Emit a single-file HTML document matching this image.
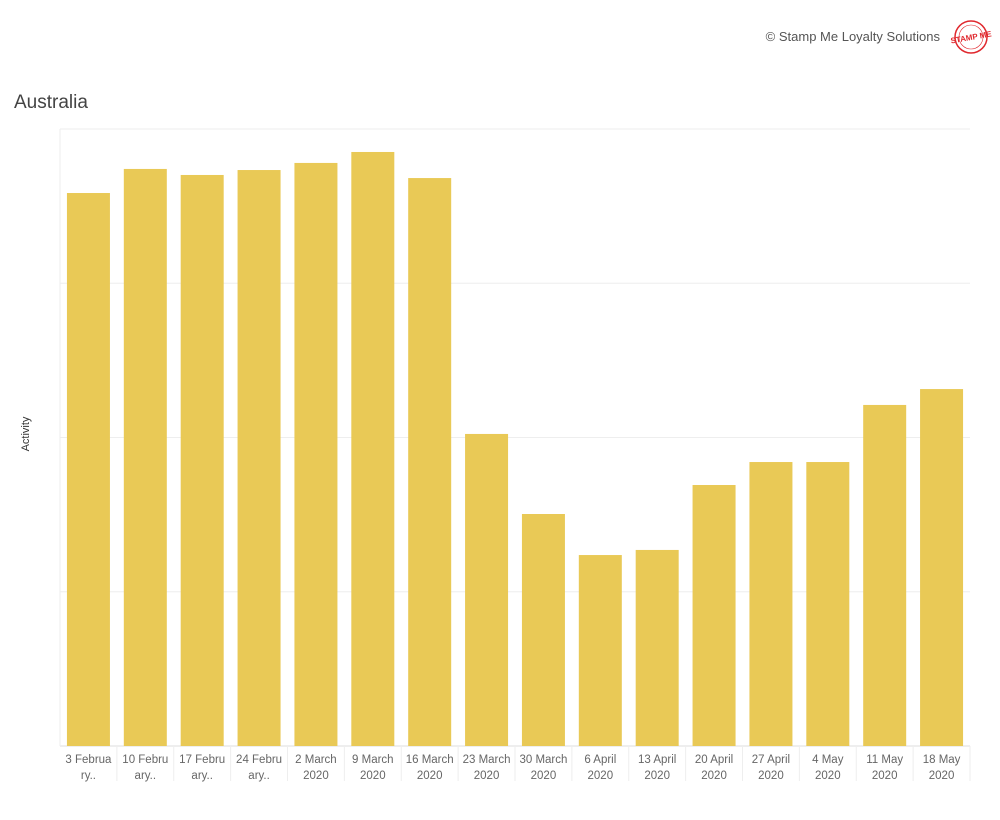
<!DOCTYPE html>
<html><head><meta charset="utf-8"><style>
body{margin:0;background:#fff;font-family:"Liberation Sans",sans-serif;}
svg text{font-family:"Liberation Sans",sans-serif;}
</style></head><body>
<svg id="chart" width="1000" height="815" xmlns="http://www.w3.org/2000/svg">
<text x="940" y="41" text-anchor="end" font-size="13" fill="#555">© Stamp Me Loyalty Solutions</text>
<g>
<circle cx="971" cy="37" r="16" fill="none" stroke="#e0282e" stroke-width="1.5"/>
<circle cx="971" cy="37" r="12" fill="none" stroke="#e0282e" stroke-width="0.6"/>
<text x="971" y="40" text-anchor="middle" font-size="8" font-weight="bold" fill="#e0282e" transform="rotate(-10 971 37)">STAMP ME</text>
</g>
<text x="14" y="108" font-size="19" fill="#444">Australia</text>
<text x="29" y="434" font-size="11" fill="#333" text-anchor="middle" transform="rotate(-90 29 434)">Activity</text>
<g id="grid"></g><g id="bars"></g><g id="xlabels"></g>
</svg>
<script>
const categories=[["3 Februa","ry.."],["10 Febru","ary.."],["17 Febru","ary.."],["24 Febru","ary.."],["2 March","2020"],["9 March","2020"],["16 March","2020"],["23 March","2020"],["30 March","2020"],["6 April","2020"],["13 April","2020"],["20 April","2020"],["27 April","2020"],["4 May","2020"],["11 May","2020"],["18 May","2020"]];
const values=[3.585,3.741,3.702,3.734,3.780,3.851,3.682,2.023,1.504,1.238,1.271,1.692,1.841,1.841,2.211,2.314];
const gridTicks=[0,1,2,3,4];
const NS="http://www.w3.org/2000/svg";
const x0=60,x1=970,y0=746,y1=129,yMax=4;
const step=(x1-x0)/categories.length;
const y=v=>y0-(v/yMax)*(y0-y1);
const xc=i=>x0+step*(i+0.5);
function mk(t,a,p){const e=document.createElementNS(NS,t);for(const k in a)e.setAttribute(k,a[k]);p.appendChild(e);return e;}
const g=document.getElementById('grid');
gridTicks.forEach(t=>{
 const l=mk('line',{x1:x0,x2:x1,y1:y(t),y2:y(t),stroke:t===0?'#ddd':'#eee','stroke-width':1},g);
 
 
});
const al=mk('line',{x1:x0,x2:x0,y1:y1,y2:y0,stroke:'#eee'},g);


const b=document.getElementById('bars'),xl=document.getElementById('xlabels');
values.forEach((v,i)=>{
 const r=mk('rect',{x:xc(i)-21.5,width:43,y:y(v),height:y0-y(v),fill:'#e9c956'},b);
 
 
 const s=mk('line',{x1:x0+step*(i+1),x2:x0+step*(i+1),y1:y0,y2:y0+35,stroke:'#eee'},xl);
 
 
 categories[i].forEach((ln,j)=>{
  const t=mk('text',{x:xc(i),y:763+j*16,'text-anchor':'middle','font-size':11.5,fill:'#666'},xl);
  t.textContent=ln;
  
  
 });
});
</script>
</body></html>
